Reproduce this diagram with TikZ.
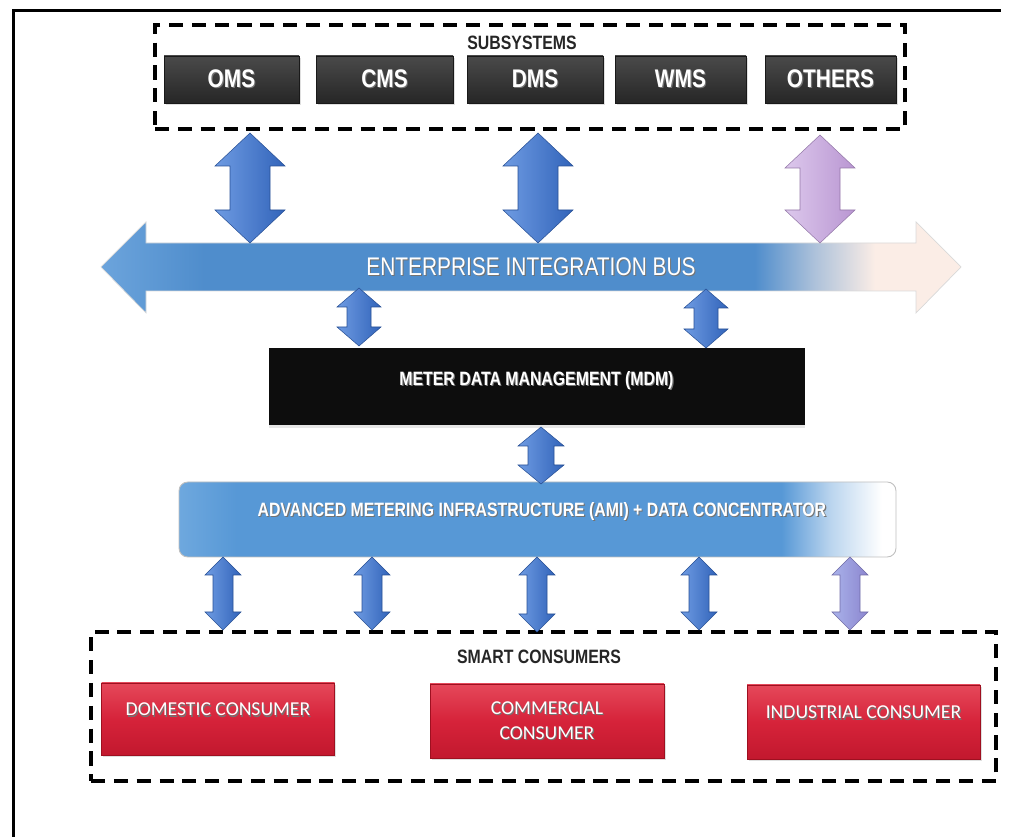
\documentclass[tikz,border=0pt]{standalone}
\usepackage{fontspec}
\setmainfont{Liberation Sans}
\newfontfamily\narrowfont[FakeStretch=0.82]{Liberation Sans}
\newfontfamily\calibrifont{Carlito}
\usetikzlibrary{shadows}

\def\upx{0.02cm}

\definecolor{boxgraytop}{HTML}{4A4A4A}
\definecolor{boxgraybot}{HTML}{262626}
\definecolor{arrowlt}{HTML}{6E9BE2}
\definecolor{arrowdk}{HTML}{3264BA}
\definecolor{lilaclt}{HTML}{DCC8EC}
\definecolor{lilacdk}{HTML}{B996D2}
\definecolor{mauvelt}{HTML}{A9B2EA}
\definecolor{mauvedk}{HTML}{8C86CF}
\definecolor{busblue}{HTML}{4F8DCC}
\definecolor{buslight}{HTML}{6CA4DC}
\definecolor{peach}{HTML}{FBEDE6}
\definecolor{amiblue}{HTML}{5798D6}
\definecolor{amilight}{HTML}{6EA8DE}
\definecolor{redtop}{HTML}{E5485A}
\definecolor{redmid}{HTML}{D6233A}
\definecolor{redbot}{HTML}{C2182E}
\definecolor{redline}{HTML}{9E1020}

% horizontal fades: the path box spans 25bp..75bp
\pgfdeclarehorizontalshading{busfade}{100bp}{color(0bp)=(buslight); color(25bp)=(buslight); color(31bp)=(busblue); color(63bp)=(busblue); color(66.5bp)=(busblue!45!peach); color(70bp)=(peach); color(100bp)=(peach)}
\pgfdeclarehorizontalshading{amifade}{100bp}{color(0bp)=(amilight); color(25bp)=(amilight); color(29bp)=(amiblue); color(67bp)=(amiblue); color(70.5bp)=(amiblue!40!white); color(74bp)=(white); color(100bp)=(white)}

% white text with a soft dark edge
\newcommand\tsh[1]{\makebox[0pt][l]{\hspace{0.6pt}\raisebox{-0.6pt}{\textcolor{black!55}{#1}}}#1}

% vertical two-headed block arrow: style, top point, bottom point,
% half shaft width, half head width, head length
\newcommand\vblock[6]{%
  \path[#1] (#2) -- ([shift={(#5,#6)}]#2) -- ([shift={(#4,#6)}]#2)
    -- ([shift={(#4,-#6)}]#3) -- ([shift={(#5,-#6)}]#3) -- (#3)
    -- ([shift={(-#5,-#6)}]#3) -- ([shift={(-#4,-#6)}]#3)
    -- ([shift={(-#4,#6)}]#2) -- ([shift={(-#5,#6)}]#2) -- cycle;}

\begin{document}
\begin{tikzpicture}[x=0.02cm,y=-0.02cm,
  dashbox/.style={draw=black, line width=2.2pt, dash pattern=on 8pt off 5pt, inner sep=0pt},
  grouplabel/.style={font=\narrowfont\bfseries\fontsize{11}{13}\selectfont, text=black!85},
  subbox/.style={minimum height=47*\upx, inner sep=0pt, top color=boxgraytop, bottom color=boxgraybot,
    draw=black!90, line width=0.4pt, text=white, font=\narrowfont\bfseries\fontsize{14.5}{17}\selectfont,
    drop shadow={opacity=0.25, shadow xshift=1pt, shadow yshift=-1.2pt}},
  mdmbox/.style={minimum width=536*\upx, minimum height=77*\upx, inner sep=0pt, fill=black!95,
    text=white, font=\narrowfont\bfseries\fontsize{11}{13}\selectfont,
    drop shadow={opacity=0.2, shadow xshift=0pt, shadow yshift=-1.5pt}},
  amibox/.style={minimum width=717*\upx, minimum height=75*\upx, inner sep=0pt, rounded corners=5pt,
    shading=amifade, draw=black!25, line width=0.5pt, text=white,
    font=\narrowfont\bfseries\fontsize{11}{13}\selectfont},
  consumer/.style={minimum width=233*\upx, minimum height=72*\upx, inner sep=0pt,
    top color=redtop, bottom color=redbot, middle color=redmid, draw=redline, line width=0.5pt,
    text=white, align=center, font=\calibrifont\fontsize{11.2}{15.5}\selectfont,
    drop shadow={opacity=0.25, shadow xshift=1pt, shadow yshift=-1.2pt}},
  bluearrow/.style={left color=arrowlt, right color=arrowdk, draw=arrowdk!80!black, line width=0.3pt},
  lilacarrow/.style={left color=lilaclt, right color=lilacdk, draw=lilacdk!80!black, line width=0.3pt},
  mauvearrow/.style={left color=mauvelt, right color=mauvedk, draw=mauvedk!80!black, line width=0.3pt},
  busarrow/.style={shading=busfade, draw=black!15, line width=0.4pt}
]
\useasboundingbox (0,0) rectangle (1009,837);

% page frame: left edge and top edge
\fill[black] (11.5,9.5) rectangle (14.5,837);
\fill[black] (11.5,9.5) rectangle (1001,12.5);

% ---------------- subsystems ----------------
\node[dashbox, minimum width=750*\upx, minimum height=104*\upx] (subsys) at (530,77) {};
\node[grouplabel] (sublabel) at (522,43) {SUBSYSTEMS};
\node[subbox, minimum width=135*\upx] (oms)    at (231.5,79.5) {\tsh{OMS}};
\node[subbox, minimum width=137*\upx] (cms)    at (384.5,79.5) {\tsh{CMS}};
\node[subbox, minimum width=136*\upx] (dms)    at (535,79.5)   {\tsh{DMS}};
\node[subbox, minimum width=131*\upx] (wms)    at (680.5,79.5) {\tsh{WMS}};
\node[subbox, minimum width=131*\upx] (others) at (830.5,79.5) {\tsh{OTHERS}};

% ---------------- enterprise integration bus ----------------
\path[busarrow] (101,267) -- (146,222) -- (146,243) -- (916,243) -- (916,222) -- (961,267)
  -- (916,313) -- (916,291) -- (146,291) -- (146,313) -- cycle;
\node[text=white, font=\narrowfont\fontsize{14.5}{17}\selectfont] (bus) at (531,267)
  {\tsh{ENTERPRISE INTEGRATION BUS}};

% ---------------- meter data management ----------------
\node[mdmbox] (mdm) at (536.5,386.5) {\raisebox{3pt}[\height][\depth]{\tsh{METER DATA MANAGEMENT (MDM)}}};

% ---------------- AMI ----------------
\node[amibox] (ami) at (537.5,519.5)
  {\hspace*{5pt}\raisebox{4pt}[\height][\depth]{\tsh{ADVANCED METERING INFRASTRUCTURE (AMI) + DATA CONCENTRATOR}}};

% ---------------- smart consumers ----------------
\node[dashbox, minimum width=905*\upx, minimum height=149*\upx] (consumers) at (543.5,706.5) {};
\node[grouplabel] (conlabel) at (539,657) {SMART CONSUMERS};
\node[consumer] (domestic)   at (218,719)   {\raisebox{5pt}[\height][\depth]{\tsh{DOMESTIC CONSUMER}}};
\node[consumer, minimum width=234*\upx, minimum height=74*\upx] (commercial) at (547,721)
  {\tsh{COMMERCIAL}\\[-1pt]\tsh{CONSUMER}};
\node[consumer, minimum height=74*\upx] (industrial) at (863.5,722) {\raisebox{5pt}[\height][\depth]{\tsh{INDUSTRIAL CONSUMER}}};

% ---------------- arrow end points ----------------
\coordinate (s1t) at (250,133);  \coordinate (s1b) at (250,243);
\coordinate (s2t) at (538,133);  \coordinate (s2b) at (538,243);
\coordinate (s3t) at (820,135);  \coordinate (s3b) at (820,243);
\coordinate (m1t) at (359,288);  \coordinate (m1b) at (359,346);
\coordinate (m2t) at (706,289);  \coordinate (m2b) at (706,348);
\coordinate (at)  at (541,427);  \coordinate (ab)  at (541,484);
\coordinate (c1t) at (223,557);  \coordinate (c1b) at (223,630);
\coordinate (c2t) at (372,557);  \coordinate (c2b) at (372,630);
\coordinate (c3t) at (537,557);  \coordinate (c3b) at (537,632);
\coordinate (c4t) at (699,557);  \coordinate (c4b) at (699,630);
\coordinate (c5t) at (850,557);  \coordinate (c5b) at (850,630);

% subsystems <-> bus
\vblock{bluearrow}{s1t}{s1b}{20}{35}{33}
\vblock{bluearrow}{s2t}{s2b}{20}{35}{33}
\vblock{lilacarrow}{s3t}{s3b}{20}{35}{33}
% bus <-> MDM
\vblock{bluearrow}{m1t}{m1b}{12}{22}{19}
\vblock{bluearrow}{m2t}{m2b}{12}{22}{19}
% MDM <-> AMI
\vblock{bluearrow}{at}{ab}{13}{23}{19}
% AMI <-> consumers
\vblock{bluearrow}{c1t}{c1b}{10}{18}{18}
\vblock{bluearrow}{c2t}{c2b}{10}{18}{18}
\vblock{bluearrow}{c3t}{c3b}{10}{18}{18}
\vblock{bluearrow}{c4t}{c4b}{10}{18}{18}
\vblock{mauvearrow}{c5t}{c5b}{10}{18}{18}
\end{tikzpicture}
\end{document}
